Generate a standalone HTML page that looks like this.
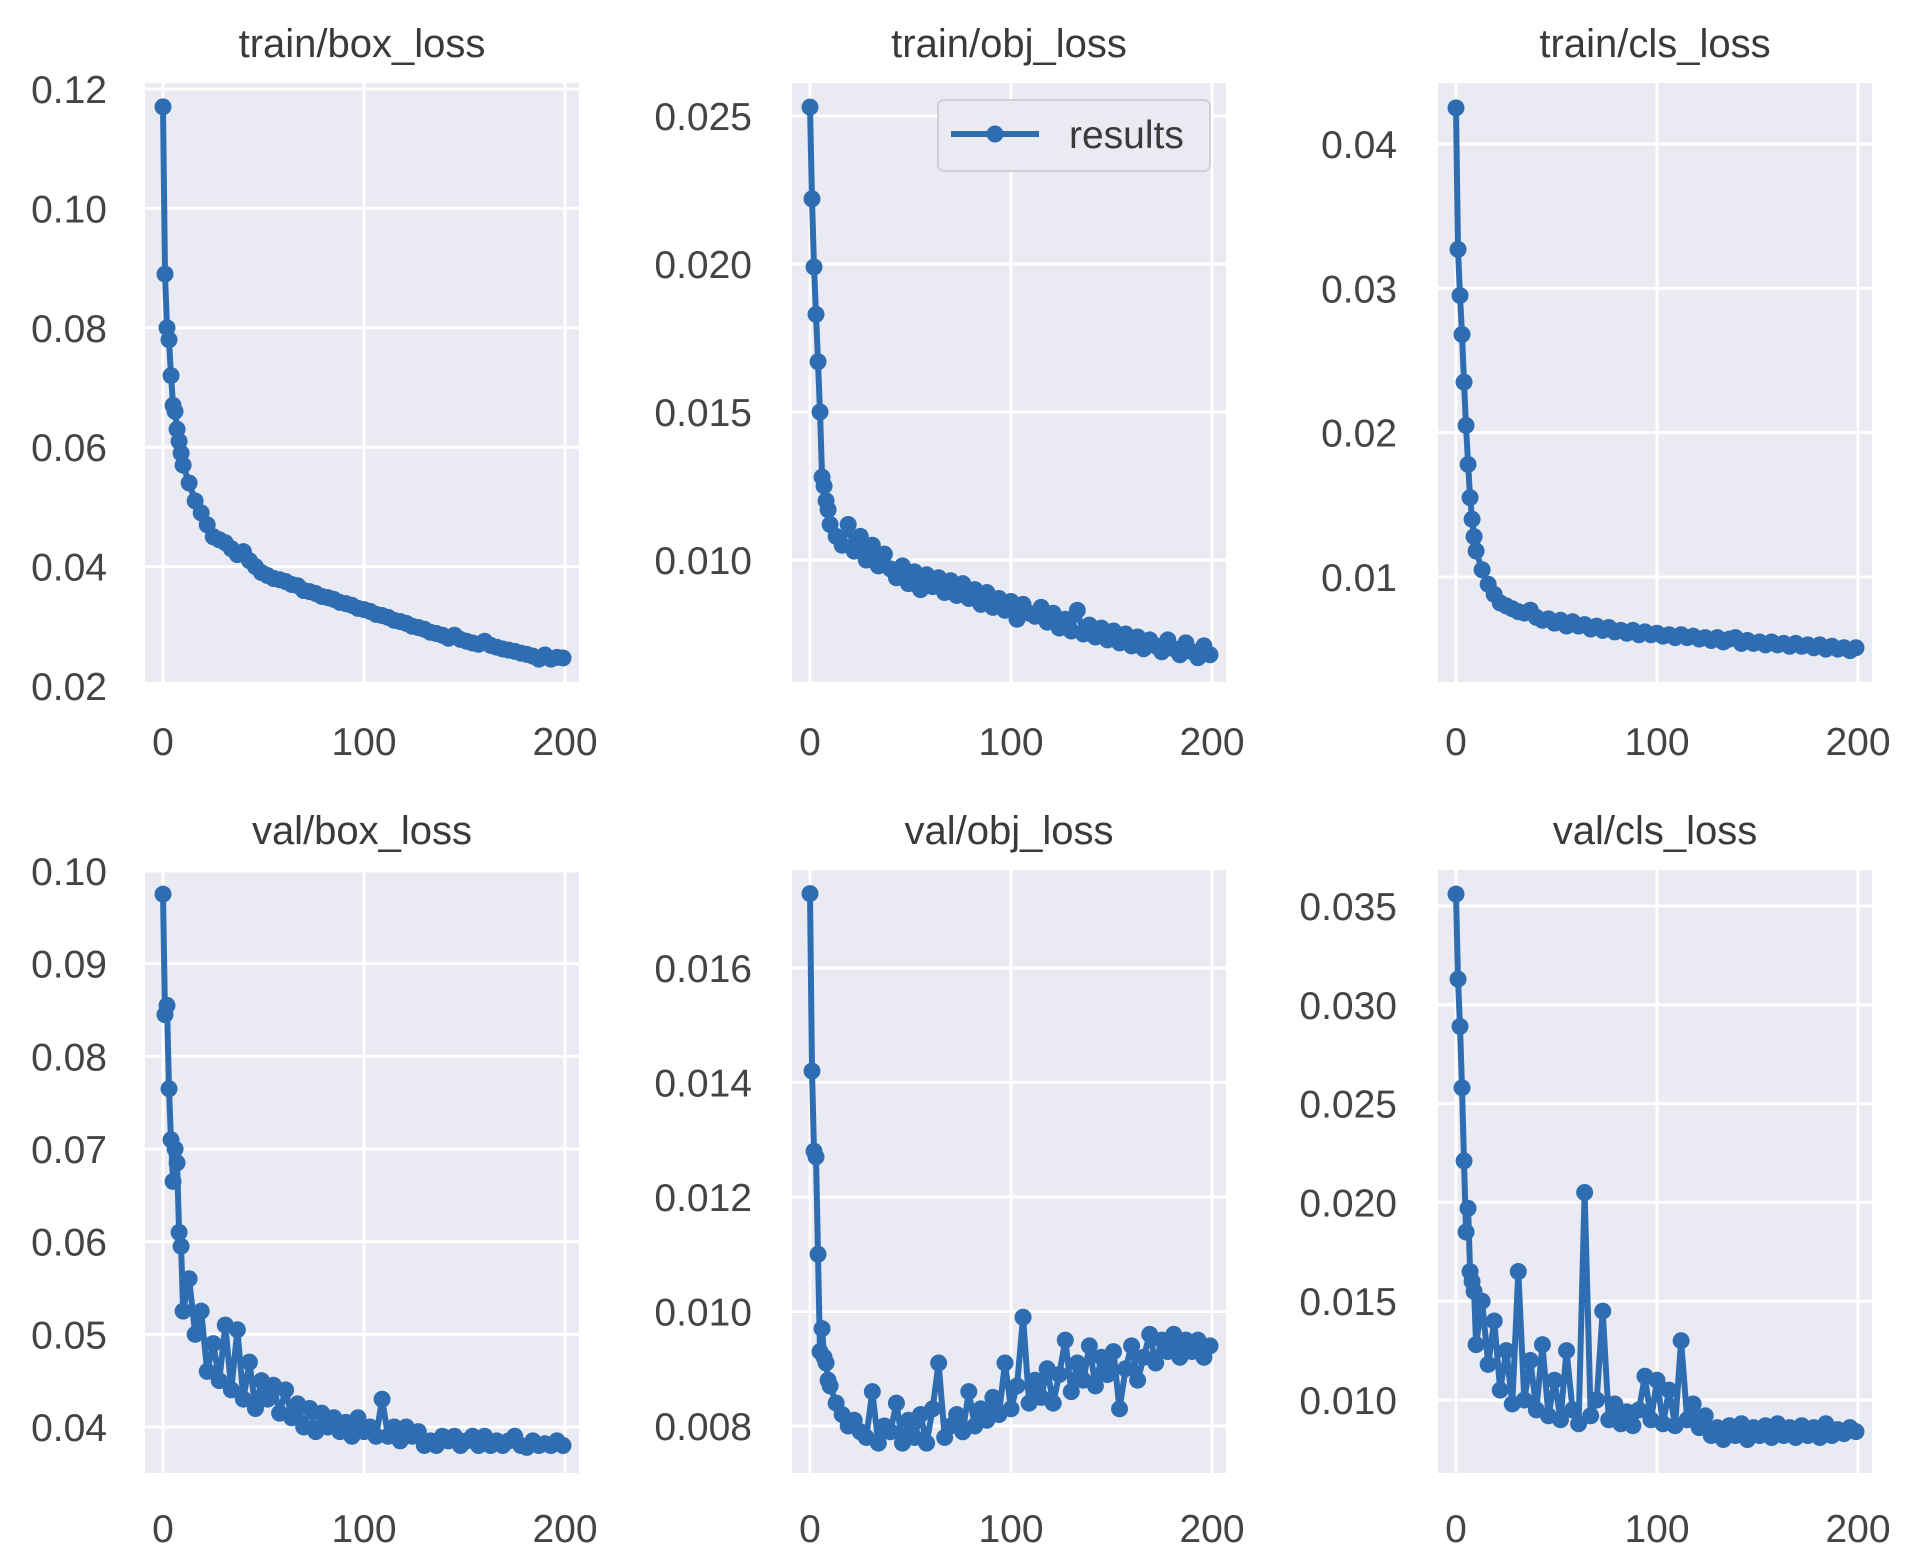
<!DOCTYPE html>
<html><head><meta charset="utf-8"><style>
html,body{margin:0;padding:0;background:#fff;}
svg{display:block;font-family:"Liberation Sans",sans-serif;}
</style></head><body>
<svg id="chart" width="1906" height="1568" viewBox="0 0 1906 1568"></svg>
<script>
const epochs=[0,1,2,3,4,5,6,7,8,9,10,13,16,19,22,25,28,31,34,37,40,43,46,49,52,55,58,61,64,67,70,73,76,79,82,85,88,91,94,97,100,103,106,109,112,115,118,121,124,127,130,133,136,139,142,145,148,151,154,157,160,163,166,169,172,175,178,181,184,187,190,193,196,199];
const xTicks=[0,100,200];
const trainBox=[0.117,0.089,0.080,0.078,0.072,0.067,0.066,0.063,0.061,0.059,0.057,0.054,0.051,0.049,0.047,0.045,0.0445,0.044,0.043,0.042,0.0425,0.041,0.040,0.039,0.0385,0.038,0.0378,0.0375,0.037,0.0368,0.036,0.0358,0.0355,0.035,0.0348,0.0345,0.034,0.0338,0.0335,0.033,0.0328,0.0325,0.032,0.0318,0.0315,0.031,0.0308,0.0305,0.030,0.0298,0.0295,0.029,0.0288,0.0285,0.028,0.0285,0.0278,0.0275,0.0272,0.027,0.0275,0.0268,0.0265,0.0262,0.026,0.0258,0.0255,0.0253,0.025,0.0245,0.0252,0.0245,0.0248,0.0247];
const trainObj=[0.0253,0.0222,0.0199,0.0183,0.0167,0.0150,0.0128,0.0125,0.0120,0.0117,0.0112,0.0108,0.0105,0.0112,0.0103,0.0108,0.0100,0.0105,0.0098,0.0102,0.0097,0.0094,0.0098,0.0092,0.0096,0.0090,0.0095,0.0091,0.0094,0.0089,0.0093,0.0088,0.0092,0.0087,0.0090,0.0085,0.0089,0.0084,0.0087,0.0083,0.0086,0.0080,0.0085,0.0082,0.0081,0.0084,0.0079,0.0082,0.0077,0.0080,0.0076,0.0083,0.0075,0.0078,0.0074,0.0077,0.0073,0.0076,0.0072,0.0075,0.0071,0.0074,0.0070,0.0073,0.0071,0.0069,0.0073,0.0070,0.0068,0.0072,0.0069,0.0067,0.0071,0.0068];
const trainCls=[0.0425,0.0327,0.0295,0.0268,0.0235,0.0205,0.0178,0.0155,0.0140,0.0128,0.0118,0.0105,0.0095,0.0088,0.0082,0.0080,0.0078,0.0076,0.0075,0.0077,0.0072,0.0070,0.0071,0.0068,0.0070,0.0066,0.0069,0.0066,0.0067,0.0064,0.0066,0.0063,0.0065,0.0062,0.0063,0.0061,0.0063,0.0060,0.0062,0.0060,0.0061,0.0059,0.0060,0.0058,0.0060,0.0058,0.0059,0.0057,0.0058,0.0056,0.0058,0.0055,0.0057,0.0058,0.0054,0.0056,0.0054,0.0055,0.0053,0.0055,0.0053,0.0054,0.0052,0.0054,0.0052,0.0053,0.0051,0.0053,0.0050,0.0052,0.0050,0.0051,0.0049,0.0051];
const valBox=[0.0975,0.0845,0.0855,0.0765,0.071,0.0665,0.0700,0.0685,0.061,0.0595,0.0525,0.0560,0.0500,0.0525,0.0460,0.0490,0.0450,0.0510,0.0440,0.0505,0.0430,0.0470,0.0420,0.0450,0.0430,0.0445,0.0415,0.0440,0.0410,0.0425,0.0400,0.0420,0.0395,0.0415,0.0400,0.0410,0.0395,0.0405,0.0390,0.0410,0.0395,0.0400,0.0390,0.0430,0.0390,0.0400,0.0385,0.0400,0.0390,0.0395,0.0380,0.0385,0.0380,0.0390,0.0385,0.0390,0.0380,0.0385,0.0390,0.0380,0.0390,0.0380,0.0385,0.0380,0.0385,0.0390,0.0380,0.0378,0.0385,0.0380,0.0382,0.0380,0.0385,0.0380];
const valObj=[0.0173,0.0142,0.0128,0.0127,0.0110,0.0093,0.0097,0.0092,0.0091,0.0088,0.0087,0.0084,0.0082,0.0080,0.0081,0.0079,0.0078,0.0086,0.0077,0.0080,0.0079,0.0084,0.0077,0.0081,0.0078,0.0082,0.0077,0.0083,0.0091,0.0078,0.0080,0.0082,0.0079,0.0086,0.0080,0.0083,0.0081,0.0085,0.0082,0.0091,0.0083,0.0087,0.0099,0.0084,0.0088,0.0085,0.0090,0.0084,0.0089,0.0095,0.0086,0.0091,0.0088,0.0094,0.0087,0.0092,0.0089,0.0093,0.0083,0.0090,0.0094,0.0088,0.0092,0.0096,0.0091,0.0095,0.0093,0.0096,0.0092,0.0095,0.0093,0.0095,0.0092,0.0094];
const valCls=[0.0356,0.0313,0.0289,0.0258,0.0221,0.0185,0.0197,0.0165,0.0160,0.0155,0.0128,0.0150,0.0118,0.0140,0.0105,0.0125,0.0098,0.0165,0.0100,0.0120,0.0095,0.0128,0.0092,0.0110,0.0090,0.0125,0.0095,0.0088,0.0205,0.0092,0.0100,0.0145,0.0090,0.0098,0.0088,0.0094,0.0087,0.0095,0.0112,0.0090,0.0110,0.0088,0.0105,0.0087,0.0130,0.0090,0.0098,0.0086,0.0092,0.0082,0.0086,0.0080,0.0087,0.0082,0.0088,0.0080,0.0086,0.0082,0.0087,0.0081,0.0088,0.0082,0.0086,0.0081,0.0087,0.0082,0.0086,0.0081,0.0088,0.0082,0.0085,0.0083,0.0086,0.0084];
const ticksTrainBox=["0.12","0.10","0.08","0.06","0.04","0.02"];
const ticksTrainObj=["0.025","0.020","0.015","0.010"];
const ticksTrainCls=["0.04","0.03","0.02","0.01"];
const ticksValBox=["0.10","0.09","0.08","0.07","0.06","0.05","0.04"];
const ticksValObj=["0.016","0.014","0.012","0.010","0.008"];
const ticksValCls=["0.035","0.030","0.025","0.020","0.015","0.010"];

const NS="http://www.w3.org/2000/svg";
const svg=document.getElementById('chart');
function mk(tag,attrs,parent){const e=document.createElementNS(NS,tag);for(const k in attrs)e.setAttribute(k,attrs[k]);(parent||svg).appendChild(e);return e;}
const panels=[
 {title:"train/box_loss",name:"train-box-loss",data:trainBox,ticks:ticksTrainBox,col:0,row:0,cal:[0.12,89,0.02,686]},
 {title:"train/obj_loss",name:"train-obj-loss",data:trainObj,ticks:ticksTrainObj,col:1,row:0,cal:[0.025,116,0.010,560],legend:true},
 {title:"train/cls_loss",name:"train-cls-loss",data:trainCls,ticks:ticksTrainCls,col:2,row:0,cal:[0.04,144,0.01,577]},
 {title:"val/box_loss",name:"val-box-loss",data:valBox,ticks:ticksValBox,col:0,row:1,cal:[0.10,871,0.04,1427]},
 {title:"val/obj_loss",name:"val-obj-loss",data:valObj,ticks:ticksValObj,col:1,row:1,cal:[0.016,968,0.008,1426]},
 {title:"val/cls_loss",name:"val-cls-loss",data:valCls,ticks:ticksValCls,col:2,row:1,cal:[0.035,906,0.010,1400]}
];
const colL=[145,792,1438], rowT=[83,870], rowB=[682,1473], W=434;
const rightLab=[107,752,1397];
const titleY=[43,830], xLabY=[741,1528];
const blue="#2f6db3";
panels.forEach(p=>{
  const g=mk('g',{});
  
  
  const L=colL[p.col],T=rowT[p.row],B=rowB[p.row];
  const [v1,p1,v2,p2]=p.cal;
  const ys=v=>p1+(v-v1)*(p2-p1)/(v2-v1);
  const xs=e=>L+18+e*2.01;
  const bg=mk('rect',{x:L,y:T,width:W,height:B-T,fill:"#eaeaf2"},g);
  
  
  p.ticks.forEach(t=>{
    const y=ys(parseFloat(t));
    if(y>=T-1&&y<=B+1){const gl=mk('line',{x1:L,x2:L+W,y1:y,y2:y,stroke:"#fff","stroke-width":3},g);
      
      }
    const tx=mk('text',{x:rightLab[p.col],y:y+14,"text-anchor":"end","font-size":39,fill:"#444"},g);
    
    
    tx.textContent=t;
  });
  xTicks.forEach(t=>{
    const x=xs(t);
    const gl=mk('line',{x1:x,x2:x,y1:T,y2:B,stroke:"#fff","stroke-width":3},g);
    
    
    const tx=mk('text',{x:x,y:xLabY[p.row]+14,"text-anchor":"middle","font-size":39,fill:"#444"},g);
    
    
    tx.textContent=String(t);
  });
  const tt=mk('text',{x:L+W/2,y:titleY[p.row]+14,"text-anchor":"middle","font-size":40,fill:"#3a3a3a"},g);
  
  
  tt.textContent=p.title;
  const pts=p.data.map((v,i)=>xs(epochs[i]).toFixed(1)+","+ys(v).toFixed(1)).join(" ");
  const pl=mk('polyline',{points:pts,fill:"none",stroke:blue,"stroke-width":6,"stroke-linejoin":"round"},g);
  
  
  p.data.forEach((v,i)=>{
    const c=mk('circle',{cx:xs(epochs[i]),cy:ys(v),r:8.5,fill:blue},g);
    
    
  });
  if(p.legend){
    const lg=mk('g',{},g);
    
    
    mk('rect',{x:938,y:100,width:272,height:71,rx:6,fill:"#eaeaf2",stroke:"#d0d0d8","stroke-width":2},lg);
    mk('line',{x1:951,x2:1039,y1:134,y2:134,stroke:blue,"stroke-width":6},lg);
    mk('circle',{cx:995,cy:134,r:8.5,fill:blue},lg);
    const lt=mk('text',{x:1069,y:148,"font-size":39,fill:"#3a3a3a"},lg);
    
    
    lt.textContent="results";
  }
});
</script>
</body></html>
